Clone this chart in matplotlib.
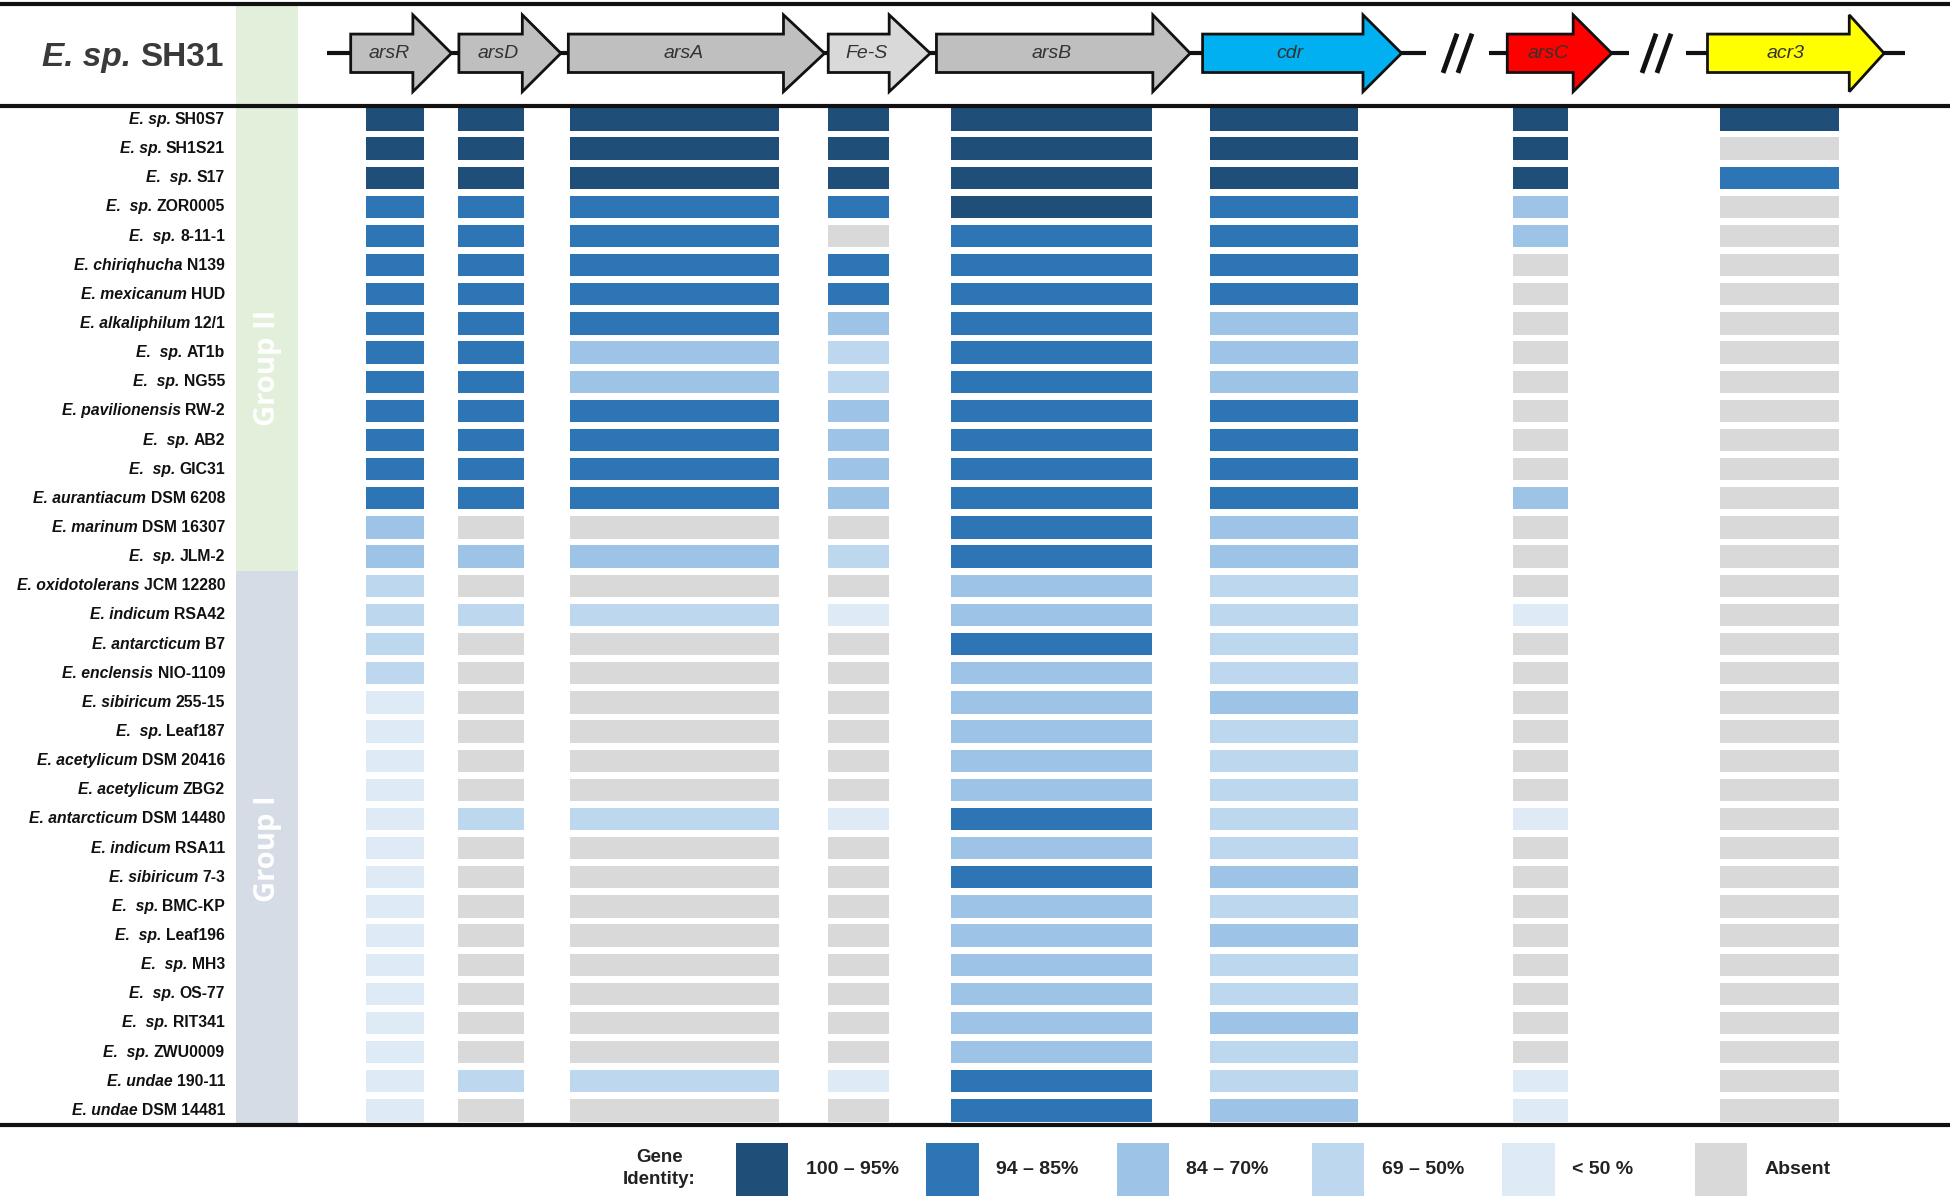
"""Arsenic gene cluster identity map for Exiguobacterium strains vs. E. sp. SH31."""

import matplotlib

matplotlib.use("Agg")
import matplotlib.pyplot as plt
from matplotlib.patches import Polygon, Rectangle

INK, LABEL_INK = "#111111", "#404040"

# ---- data --------------------------------------------------------------
GENES = ["arsR", "arsD", "arsA", "Fe-S", "arsB", "cdr", "arsC", "acr3"]
GENE_COLORS = ["#bfbfbf", "#bfbfbf", "#bfbfbf", "#d9d9d9", "#bfbfbf", "#00b0f0", "#ff0000", "#ffff00"]

SPECIES = [
    "E. sp.", "E. sp.", "E.  sp.", "E.  sp.", "E.  sp.", "E. chiriqhucha", "E. mexicanum",
    "E. alkaliphilum", "E.  sp.", "E.  sp.", "E. pavilionensis", "E.  sp.", "E.  sp.",
    "E. aurantiacum", "E. marinum", "E.  sp.", "E. oxidotolerans", "E. indicum",
    "E. antarcticum", "E. enclensis", "E. sibiricum", "E.  sp.", "E. acetylicum",
    "E. acetylicum", "E. antarcticum", "E. indicum", "E. sibiricum", "E.  sp.", "E.  sp.",
    "E.  sp.", "E.  sp.", "E.  sp.", "E.  sp.", "E. undae", "E. undae",
]
STRAINS = [
    "SH0S7", "SH1S21", "S17", "ZOR0005", "8-11-1", "N139", "HUD", "12/1", "AT1b", "NG55",
    "RW-2", "AB2", "GIC31", "DSM 6208", "DSM 16307", "JLM-2", "JCM 12280", "RSA42", "B7",
    "NIO-1109", "255-15", "Leaf187", "DSM 20416", "ZBG2", "DSM 14480", "RSA11", "7-3",
    "BMC-KP", "Leaf196", "MH3", "OS-77", "RIT341", "ZWU0009", "190-11", "DSM 14481",
]

# identity class per gene: 1 = 100-95%, 2 = 94-85%, 3 = 84-70%, 4 = 69-50%, 5 = <50%, 0 = absent
#            arsR arsD arsA Fe-S arsB cdr arsC acr3
IDENTITY = [
    [1, 1, 1, 1, 1, 1, 1, 1],
    [1, 1, 1, 1, 1, 1, 1, 0],
    [1, 1, 1, 1, 1, 1, 1, 2],
    [2, 2, 2, 2, 1, 2, 3, 0],
    [2, 2, 2, 0, 2, 2, 3, 0],
    [2, 2, 2, 2, 2, 2, 0, 0],
    [2, 2, 2, 2, 2, 2, 0, 0],
    [2, 2, 2, 3, 2, 3, 0, 0],
    [2, 2, 3, 4, 2, 3, 0, 0],
    [2, 2, 3, 4, 2, 3, 0, 0],
    [2, 2, 2, 3, 2, 2, 0, 0],
    [2, 2, 2, 3, 2, 2, 0, 0],
    [2, 2, 2, 3, 2, 2, 0, 0],
    [2, 2, 2, 3, 2, 2, 3, 0],
    [3, 0, 0, 0, 2, 3, 0, 0],
    [3, 3, 3, 4, 2, 3, 0, 0],
    [4, 0, 0, 0, 3, 4, 0, 0],
    [4, 4, 4, 5, 3, 4, 5, 0],
    [4, 0, 0, 0, 2, 4, 0, 0],
    [4, 0, 0, 0, 3, 4, 0, 0],
    [5, 0, 0, 0, 3, 3, 0, 0],
    [5, 0, 0, 0, 3, 4, 0, 0],
    [5, 0, 0, 0, 3, 4, 0, 0],
    [5, 0, 0, 0, 3, 4, 0, 0],
    [5, 4, 4, 5, 2, 4, 5, 0],
    [5, 0, 0, 0, 3, 4, 0, 0],
    [5, 0, 0, 0, 2, 3, 0, 0],
    [5, 0, 0, 0, 3, 4, 0, 0],
    [5, 0, 0, 0, 3, 3, 0, 0],
    [5, 0, 0, 0, 3, 4, 0, 0],
    [5, 0, 0, 0, 3, 4, 0, 0],
    [5, 0, 0, 0, 3, 3, 0, 0],
    [5, 0, 0, 0, 3, 4, 0, 0],
    [5, 4, 4, 5, 2, 4, 5, 0],
    [5, 0, 0, 0, 2, 3, 5, 0],
]

GROUPS = ["Group II", "Group I"]
GROUP_SIZES = [16, 19]
GROUP_COLORS = ["#e2efda", "#d6dce5"]

LEVELS = [1, 2, 3, 4, 5, 0]
LEVEL_LABELS = ["100 – 95%", "94 – 85%", "84 – 70%", "69 – 50%", "< 50 %", "Absent"]
LEVEL_COLORS = {1: "#1f4e79", 2: "#2e75b6", 3: "#9dc3e6", 4: "#bdd7ee", 5: "#deebf7", 0: "#d9d9d9"}

# ---- layout (canvas units, 1568 x 970) ---------------------------------
W, H = 1568, 970
BAR_SPAN = [(294, 341), (368, 421), (458, 626), (666, 715), (765, 926), (973, 1092), (1217, 1261), (1383, 1479)]
ARROW_SPAN = [(282, 332, 363), (369, 420, 451), (457, 630, 663), (666, 715, 748),
              (753, 927, 957), (967, 1096, 1127), (1212, 1265, 1296), (1373, 1487, 1515)]
BACKBONE = [(263, 1147), (1197, 1310), (1356, 1532)]
BREAKS = [1172, 1332]
ROW0, ROW_STEP, BAR_H = 96.4, 23.52, 18.0
LABEL_X = 181
TOP_Y, HEAD_Y, BOT_Y = 3, 85.5, 908
ARROW_Y = 43
SANS = ["Liberation Sans", "DejaVu Sans"]


def rich_right(ax, renderer, x, y, parts, **kw):
    """Right-aligned label made of (text, style) parts, drawn from the right end."""
    px_per_unit = ax.transData.transform((1, 0))[0] - ax.transData.transform((0, 0))[0]
    for text, style in reversed(parts):
        t = ax.text(x, y, text, ha="right", va="center", style=style, **kw)
        x -= t.get_window_extent(renderer).width / px_per_unit


def main():
    fig = plt.figure(figsize=(19.5, 12.02), dpi=100)
    ax = fig.add_axes([0, 0, 1, 1])
    ax.set_xlim(0, W)
    ax.set_ylim(H, 0)
    ax.axis("off")
    renderer = fig.canvas.get_renderer()

    # group bands
    edges = [TOP_Y]
    start = 0
    for n in GROUP_SIZES[:-1]:
        start += n
        edges.append(ROW0 + (start - 0.5) * ROW_STEP)
    edges.append(BOT_Y)
    for c, y0, y1 in zip(GROUP_COLORS, edges[:-1], edges[1:]):
        ax.add_patch(Rectangle((190, y0), 50, y1 - y0, color=c, lw=0, zorder=0))
    mid_ii = (ROW0 - 0.5 * ROW_STEP + edges[1]) / 2 + 24
    mid_i = (edges[1] + BOT_Y) / 2
    for name, ym in zip(GROUPS, [mid_ii, mid_i]):
        ax.text(215, ym, name, rotation=90, ha="center", va="center", color="white",
                fontsize=21, weight="bold", family="Open Sans")

    # identity bars
    for i, row in enumerate(IDENTITY):
        yc = ROW0 + i * ROW_STEP
        for j, lvl in enumerate(row):
            x0, x1 = BAR_SPAN[j]
            ax.add_patch(Rectangle((x0, yc - BAR_H / 2), x1 - x0, BAR_H,
                                   color=LEVEL_COLORS[lvl], lw=0, zorder=2))
        rich_right(ax, renderer, LABEL_X, yc, [(SPECIES[i] + " ", "italic"), (STRAINS[i], "normal")],
                   fontsize=11.3, weight="bold", color=INK, family=SANS)

    # header: reference gene cluster
    rich_right(ax, renderer, 180, 46, [("E. sp. ", "italic"), ("SH31", "normal")],
               fontsize=24, weight="bold", color="#3a3a3a", family=SANS)
    for x0, x1 in BACKBONE:
        ax.plot([x0, x1], [ARROW_Y, ARROW_Y], color=INK, lw=3, zorder=3, solid_capstyle="butt")
    for xb in BREAKS:
        for dx in (-6, 6):
            ax.plot([xb + dx - 5, xb + dx + 5], [ARROW_Y + 14, ARROW_Y - 14], color=INK, lw=3.5, zorder=3)
    for gene, c, (x0, xh, xt) in zip(GENES, GENE_COLORS, ARROW_SPAN):
        pts = [(x0, ARROW_Y - 15.5), (xh, ARROW_Y - 15.5), (xh, ARROW_Y - 31), (xt, ARROW_Y),
               (xh, ARROW_Y + 31), (xh, ARROW_Y + 15.5), (x0, ARROW_Y + 15.5)]
        ax.add_patch(Polygon(pts, closed=True, facecolor=c, edgecolor=INK, lw=2, zorder=4,
                             joinstyle="miter"))
        ax.text((x0 + xh) / 2 + 6, ARROW_Y, gene, ha="center", va="center", style="italic",
                fontsize=14, color="#333333", family=SANS, zorder=5)

    # rules
    for yl in (TOP_Y, HEAD_Y, BOT_Y):
        ax.plot([0, W], [yl, yl], color=INK, lw=3, zorder=6, solid_capstyle="butt")

    # legend
    ax.text(530, 943, "Gene\nIdentity:", ha="center", va="center", fontsize=13.5, weight="bold",
            color="#222222", family=SANS, linespacing=1.35)
    sw_x = [592, 745, 898, 1055, 1208, 1363]
    for x, lvl, lab in zip(sw_x, LEVELS, LEVEL_LABELS):
        ax.add_patch(Rectangle((x, 922), 42, 43, color=LEVEL_COLORS[lvl], lw=0))
        ax.text(x + 56, 943.5, lab, ha="left", va="center", fontsize=14, weight="bold",
                color="#222222", family=SANS)

    fig.savefig("out.png", dpi=100, facecolor="white")


if __name__ == "__main__":
    main()
